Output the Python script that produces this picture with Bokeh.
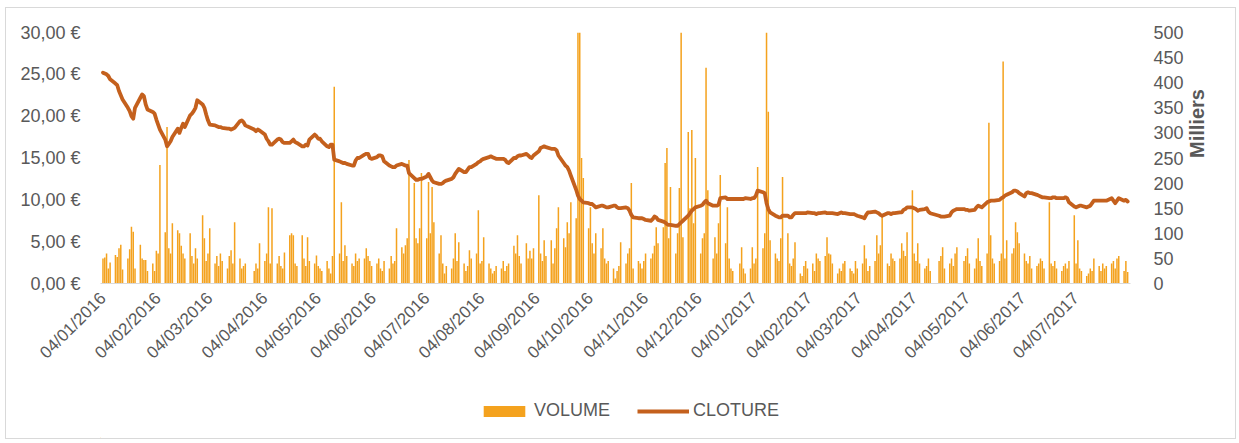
import math
import pandas as pd
from bokeh.plotting import figure
from bokeh.layouts import column
from bokeh.models import (Range1d, LinearAxis, FixedTicker, DatetimeTickFormatter,
                          Legend, LegendItem, ColumnDataSource)
from bokeh.embed import file_html
from bokeh.resources import INLINE

# ---------------- data ----------------
# Volume in thousands (Milliers) per trading day, close price in EUR per trading day
VOL_2016_01 = [50, 52, 60, 30, 42, 57, 53, 70, 77, 28, 50, 68, 113, 103, 30, 77, 50, 47, 47, 25]
VOL_2016_02 = [40, 25, 65, 60, 236, 102, 312, 70, 60, 120, 106, 100, 75, 60, 50, 100, 55, 40, 70, 50, 136]
VOL_2016_03 = [90, 45, 60, 110, 40, 55, 35, 60, 45, 30, 55, 66, 40, 122, 50, 30, 35, 40, 25, 40, 30]
VOL_2016_04 = [80, 45, 60, 152, 40, 150, 40, 55, 35, 30, 62, 96, 100, 96, 40, 35, 96, 50, 35, 92, 45]
VOL_2016_05 = [40, 56, 35, 30, 25, 45, 30, 20, 55, 392, 60, 162, 45, 76, 55, 40, 35, 60, 45, 50, 50, 70]
VOL_2016_06 = [55, 45, 35, 40, 50, 30, 25, 45, 30, 55, 40, 45, 110, 72, 60, 76, 90, 246, 200, 90, 80, 110]
VOL_2016_07 = [220, 90, 202, 100, 192, 122, 60, 96, 40, 20, 35, 30, 50, 100, 45, 82, 40, 25, 35, 66, 50]
VOL_2016_08 = [60, 146, 40, 45, 92, 40, 30, 20, 25, 35, 30, 45, 25, 35, 40, 75, 60, 96, 55, 40, 80, 50, 65]
VOL_2016_09 = [50, 70, 176, 60, 45, 86, 55, 86, 40, 70, 110, 152, 90, 72, 122, 100, 162, 130, 600, 560, 250, 210]
VOL_2016_10 = [110, 152, 80, 60, 100, 70, 110, 50, 40, 45, 30, 10, 25, 35, 82, 40, 60, 70, 200, 30, 45]
VOL_2016_11 = [40, 30, 45, 60, 50, 60, 75, 112, 80, 112, 240, 270, 90, 192, 60, 100, 190, 560, 92, 302, 150, 306]
VOL_2016_12 = [120, 250, 60, 90, 100, 430, 186, 50, 92, 60, 120, 216, 80, 152, 50, 30, 25, 40, 72, 30, 20]
VOL_2017_01 = [30, 72, 40, 50, 232, 70, 100, 560, 342, 86, 60, 50, 45, 90, 212, 100, 40, 35, 50, 82, 20, 15]
VOL_2017_02 = [35, 45, 30, 40, 25, 60, 50, 45, 55, 92, 60, 58, 40, 20, 30, 25, 40, 45, 30, 25]
VOL_2017_03 = [20, 45, 30, 40, 76, 50, 25, 35, 45, 96, 60, 76, 136, 40, 35, 60, 50, 45, 50, 80, 65, 55, 102]
VOL_2017_04 = [186, 60, 45, 80, 40, 30, 35, 50, 25, 45, 55, 72, 30, 40, 50, 35, 60, 72]
VOL_2017_05 = [45, 55, 70, 40, 30, 50, 90, 45, 35, 60, 320, 96, 50, 40, 45, 60, 442, 50, 86, 60, 70, 122]
VOL_2017_06 = [102, 80, 60, 45, 40, 55, 30, 35, 40, 50, 45, 30, 162, 40, 35, 45, 30, 25, 35, 40, 30, 45]
VOL_2017_07 = [136, 40, 86, 30, 25, 15, 20, 30, 25, 50, 35, 25, 40, 30, 35, 40, 45, 30, 50, 55, 25]
VOL_2017_08 = [45, 23]

CLOSE_2016_01 = [25.2, 25.1, 25.0, 24.8, 24.4, 23.9, 23.7, 23.0, 22.5, 22.0, 21.0, 20.6, 20.0, 19.7, 21.0, 22.2, 22.6, 22.4, 21.4, 20.8]
CLOSE_2016_02 = [20.5, 20.3, 19.6, 19.0, 18.4, 17.2, 16.4, 16.7, 17.0, 17.5, 18.5, 18.0, 18.6, 19.1, 18.7, 20.1, 20.3, 20.6, 21.0, 21.9, 21.4]
CLOSE_2016_03 = [21.0, 20.2, 19.5, 19.0, 18.9, 18.8, 18.7, 18.7, 18.6, 18.5, 18.5, 18.4, 18.5, 18.6, 19.4, 19.5, 19.3, 18.9, 18.4, 18.2, 18.4]
CLOSE_2016_04 = [18.3, 17.8, 17.3, 17.0, 16.6, 16.6, 17.2, 17.3, 17.2, 16.9, 16.8, 16.8, 17.0, 17.2, 16.9, 16.8, 16.4, 16.4, 16.6, 16.5, 17.2]
CLOSE_2016_05 = [17.8, 17.6, 17.3, 17.3, 17.0, 16.4, 16.3, 16.6, 16.6, 14.8, 14.6, 14.5, 14.4, 14.4, 14.3, 14.1, 14.1, 14.7, 15.0, 15.0, 15.4, 15.5]
CLOSE_2016_06 = [15.5, 15.0, 14.9, 15.1, 15.3, 15.3, 15.2, 14.6, 14.1, 14.0, 13.9, 13.9, 14.1, 14.3, 14.2, 14.1, 14.1, 13.2, 12.6, 12.4, 12.4, 12.5]
CLOSE_2016_07 = [12.5, 12.8, 13.1, 12.7, 12.3, 12.1, 11.9, 11.9, 12.0, 12.2, 12.3, 12.5, 12.7, 13.1, 13.4, 13.7, 13.3, 13.3, 13.6, 13.9, 13.9]
CLOSE_2016_08 = [14.3, 14.5, 14.6, 14.8, 14.9, 15.1, 15.2, 15.1, 15.0, 14.9, 14.9, 14.9, 14.8, 14.5, 14.4, 15.0, 15.0, 15.2, 15.3, 15.3, 15.5, 15.3, 15.1]
CLOSE_2016_09 = [15.0, 15.3, 15.8, 16.2, 16.3, 16.4, 16.3, 16.1, 16.1, 16.1, 15.9, 15.3, 14.4, 14.1, 13.9, 13.5, 12.9, 11.2, 10.5, 10.1, 9.9, 9.7]
CLOSE_2016_10 = [9.6, 9.5, 9.5, 9.3, 9.1, 9.3, 9.3, 9.2, 9.1, 9.1, 9.3, 9.3, 9.1, 9.0, 9.0, 9.1, 9.0, 8.7, 8.2, 7.9, 7.8]
CLOSE_2016_11 = [7.8, 7.8, 7.7, 7.6, 7.5, 7.7, 8.0, 7.9, 7.6, 7.4, 7.3, 7.1, 7.0, 7.0, 6.9, 6.9, 7.1, 7.3, 7.5, 8.1, 8.4, 8.7]
CLOSE_2016_12 = [8.9, 9.1, 9.3, 9.4, 9.7, 9.9, 9.6, 9.3, 9.3, 9.3, 9.4, 10.2, 10.3, 10.1, 10.1, 10.1, 10.1, 10.1, 10.1, 10.1, 10.2]
CLOSE_2017_01 = [10.1, 10.2, 10.2, 10.5, 11.1, 10.9, 10.8, 9.6, 8.9, 8.5, 8.1, 8.0, 7.9, 7.9, 8.1, 8.1, 7.9, 7.9, 8.2, 8.4, 8.4, 8.4]
CLOSE_2017_02 = [8.4, 8.4, 8.5, 8.4, 8.4, 8.3, 8.4, 8.4, 8.5, 8.4, 8.4, 8.4, 8.4, 8.3, 8.4, 8.5, 8.4, 8.4, 8.3, 8.3]
CLOSE_2017_03 = [8.3, 8.2, 8.1, 7.9, 7.8, 8.2, 8.5, 8.5, 8.6, 8.5, 8.4, 8.2, 8.1, 8.4, 8.4, 8.3, 8.4, 8.4, 8.5, 8.5, 8.8, 8.9, 9.1]
CLOSE_2017_04 = [9.1, 9.0, 8.9, 8.7, 8.8, 8.9, 9.0, 8.6, 8.4, 8.1, 8.0, 8.0, 8.0, 8.1, 8.5, 8.7, 8.8, 8.9]
CLOSE_2017_05 = [8.9, 8.8, 8.8, 8.7, 8.8, 9.1, 9.3, 9.2, 9.1, 9.7, 9.8, 9.9, 9.9, 9.9, 10.0, 10.2, 10.3, 10.5, 10.6, 10.9, 11.1, 11.1]
CLOSE_2017_06 = [11.0, 10.8, 10.4, 10.8, 10.9, 10.8, 10.8, 10.6, 10.5, 10.4, 10.3, 10.3, 10.2, 10.2, 10.3, 10.3, 10.2, 10.2, 10.2, 10.3, 10.2, 9.7]
CLOSE_2017_07 = [9.2, 9.1, 9.2, 9.3, 9.3, 9.1, 9.2, 9.3, 9.6, 9.9, 9.9, 9.9, 9.9, 9.9, 9.9, 10.2, 9.9, 9.6, 9.9, 10.2, 9.9]
CLOSE_2017_08 = [10.0, 9.8]

MONTHS = ["2016-01", "2016-02", "2016-03", "2016-04", "2016-05", "2016-06", "2016-07",
          "2016-08", "2016-09", "2016-10", "2016-11", "2016-12", "2017-01", "2017-02",
          "2017-03", "2017-04", "2017-05", "2017-06", "2017-07", "2017-08"]
VOLUMES = [VOL_2016_01, VOL_2016_02, VOL_2016_03, VOL_2016_04, VOL_2016_05, VOL_2016_06,
           VOL_2016_07, VOL_2016_08, VOL_2016_09, VOL_2016_10, VOL_2016_11, VOL_2016_12,
           VOL_2017_01, VOL_2017_02, VOL_2017_03, VOL_2017_04, VOL_2017_05, VOL_2017_06,
           VOL_2017_07, VOL_2017_08]
CLOSES = [CLOSE_2016_01, CLOSE_2016_02, CLOSE_2016_03, CLOSE_2016_04, CLOSE_2016_05, CLOSE_2016_06,
          CLOSE_2016_07, CLOSE_2016_08, CLOSE_2016_09, CLOSE_2016_10, CLOSE_2016_11, CLOSE_2016_12,
          CLOSE_2017_01, CLOSE_2017_02, CLOSE_2017_03, CLOSE_2017_04, CLOSE_2017_05, CLOSE_2017_06,
          CLOSE_2017_07, CLOSE_2017_08]

FIRST_DAY = "2016-01-04"
HOLIDAYS = ["2016-03-25", "2016-03-28", "2016-12-26", "2017-04-14", "2017-04-17", "2017-05-01"]

X_TICKS = ["2016-01-04", "2016-02-04", "2016-03-04", "2016-04-04", "2016-05-04", "2016-06-04",
           "2016-07-04", "2016-08-04", "2016-09-04", "2016-10-04", "2016-11-04", "2016-12-04",
           "2017-01-04", "2017-02-04", "2017-03-04", "2017-04-04", "2017-05-04", "2017-06-04",
           "2017-07-04"]
PRICE_TICKS = [0, 5, 10, 15, 20, 25, 30]
VOL_TICKS = [0, 50, 100, 150, 200, 250, 300, 350, 400, 450, 500]

# ---------------- build trading-day table ----------------
t0 = pd.Timestamp(FIRST_DAY)
dates, vols, closes = [], [], []
for m, v, c in zip(MONTHS, VOLUMES, CLOSES):
    start = pd.Timestamp(m + "-01")
    end = start + pd.offsets.MonthEnd(0)
    days = [d for d in pd.bdate_range(start, end)
            if d >= t0 and d.strftime("%Y-%m-%d") not in HOLIDAYS]
    for d, vv, cc in zip(days, v, c):
        dates.append(d)
        vols.append(vv)
        closes.append(cc)

src = ColumnDataSource(data=dict(date=dates, vol=vols, close=closes))

FONT = "'Liberation Sans', Arial, sans-serif"
GREY = "#595959"
BAR_COLOR = "#F4A21E"
LINE_COLOR = "#C4601D"
DAY_MS = 86400000
W = 1229

x_start = t0 - pd.Timedelta(days=1.4)
x_end = t0 + pd.Timedelta(days=577.6)

# ---------------- main chart ----------------
p = figure(width=W, height=390, x_axis_type="datetime",
           output_backend="svg", toolbar_location=None,
           x_range=Range1d(x_start, x_end), y_range=Range1d(0, 30),
           min_border_left=94, min_border_right=105,
           min_border_top=24, min_border_bottom=115)
p.outline_line_color = None
p.xgrid.visible = False
p.ygrid.visible = False
p.background_fill_color = "white"
p.border_fill_color = "white"

p.extra_y_ranges = {"vol": Range1d(0, 500)}

bars = p.vbar(x="date", top="vol", width=0.85 * DAY_MS, source=src, y_range_name="vol",
              fill_color=BAR_COLOR, line_color=None)
line = p.line(x="date", y="close", source=src, line_color=LINE_COLOR, line_width=3.8,
              line_join="round", line_cap="round")

# left axis (price)
ly = p.yaxis[0]
ly.ticker = FixedTicker(ticks=PRICE_TICKS)
ly.major_label_overrides = {t: ("%.2f €" % t).replace(".", ",") for t in PRICE_TICKS}
ly.axis_line_color = None
ly.major_tick_line_color = None
ly.minor_tick_line_color = None
ly.major_label_standoff = 14
ly.major_label_text_font = FONT
ly.major_label_text_font_size = "18px"
ly.major_label_text_color = GREY

# right axis (volume)
ry = LinearAxis(y_range_name="vol", ticker=FixedTicker(ticks=VOL_TICKS), axis_label="Milliers")
ry.axis_line_color = None
ry.major_tick_line_color = None
ry.minor_tick_line_color = None
ry.major_label_standoff = 17
ry.major_label_text_font = FONT
ry.major_label_text_font_size = "18px"
ry.major_label_text_color = GREY
ry.axis_label_text_font = FONT
ry.axis_label_text_font_size = "20px"
ry.axis_label_text_font_style = "bold"
ry.axis_label_text_color = GREY
ry.axis_label_standoff = 10
ry.axis_label_orientation = math.pi / 2
p.add_layout(ry, "right")

# bottom axis (dates)
bx = p.xaxis[0]
bx.ticker = FixedTicker(ticks=[pd.Timestamp(t).value // 10**6 for t in X_TICKS])
bx.formatter = DatetimeTickFormatter(days="%d/%m/%Y", months="%d/%m/%Y", years="%d/%m/%Y")
bx.major_label_orientation = math.pi / 4
bx.axis_line_color = "#D9D9D9"
bx.major_tick_line_color = None
bx.minor_tick_line_color = None
bx.major_label_standoff = 6
bx.major_label_text_font = FONT
bx.major_label_text_font_size = "17px"
bx.major_label_text_color = GREY

# ---------------- legend strip under the chart ----------------
pl = figure(width=W, height=40, output_backend="svg", toolbar_location=None,
            x_range=Range1d(0, W), y_range=Range1d(0, 40),
            min_border_left=0, min_border_right=0, min_border_top=0, min_border_bottom=0)
pl.axis.visible = False
pl.grid.visible = False
pl.outline_line_color = None
pl.border_fill_color = "white"
# swatch renderers, kept outside the visible range so only their legend entries show
leg_bar = pl.vbar(x=[-500], top=[1], width=1, fill_color=BAR_COLOR, line_color=None)
leg_line = pl.line(x=[-500, -499], y=[1, 1], line_color=LINE_COLOR, line_width=3.8)
legend = Legend(items=[LegendItem(label="VOLUME", renderers=[leg_bar]),
                       LegendItem(label="CLOTURE", renderers=[leg_line])],
                orientation="horizontal", location=(378, 17),
                glyph_width=52, glyph_height=14, label_standoff=4, spacing=27,
                padding=0, margin=0, border_line_color=None, background_fill_alpha=0,
                label_text_font=FONT, label_text_font_size="18px", label_text_color=GREY)
pl.add_layout(legend, "center")

layout = column(p, pl, spacing=0)
layout.styles = {"margin-left": "5px", "margin-top": "7px", "border": "1px solid #D9D9D9"}

open("out.html", "w").write(file_html(layout, INLINE))
